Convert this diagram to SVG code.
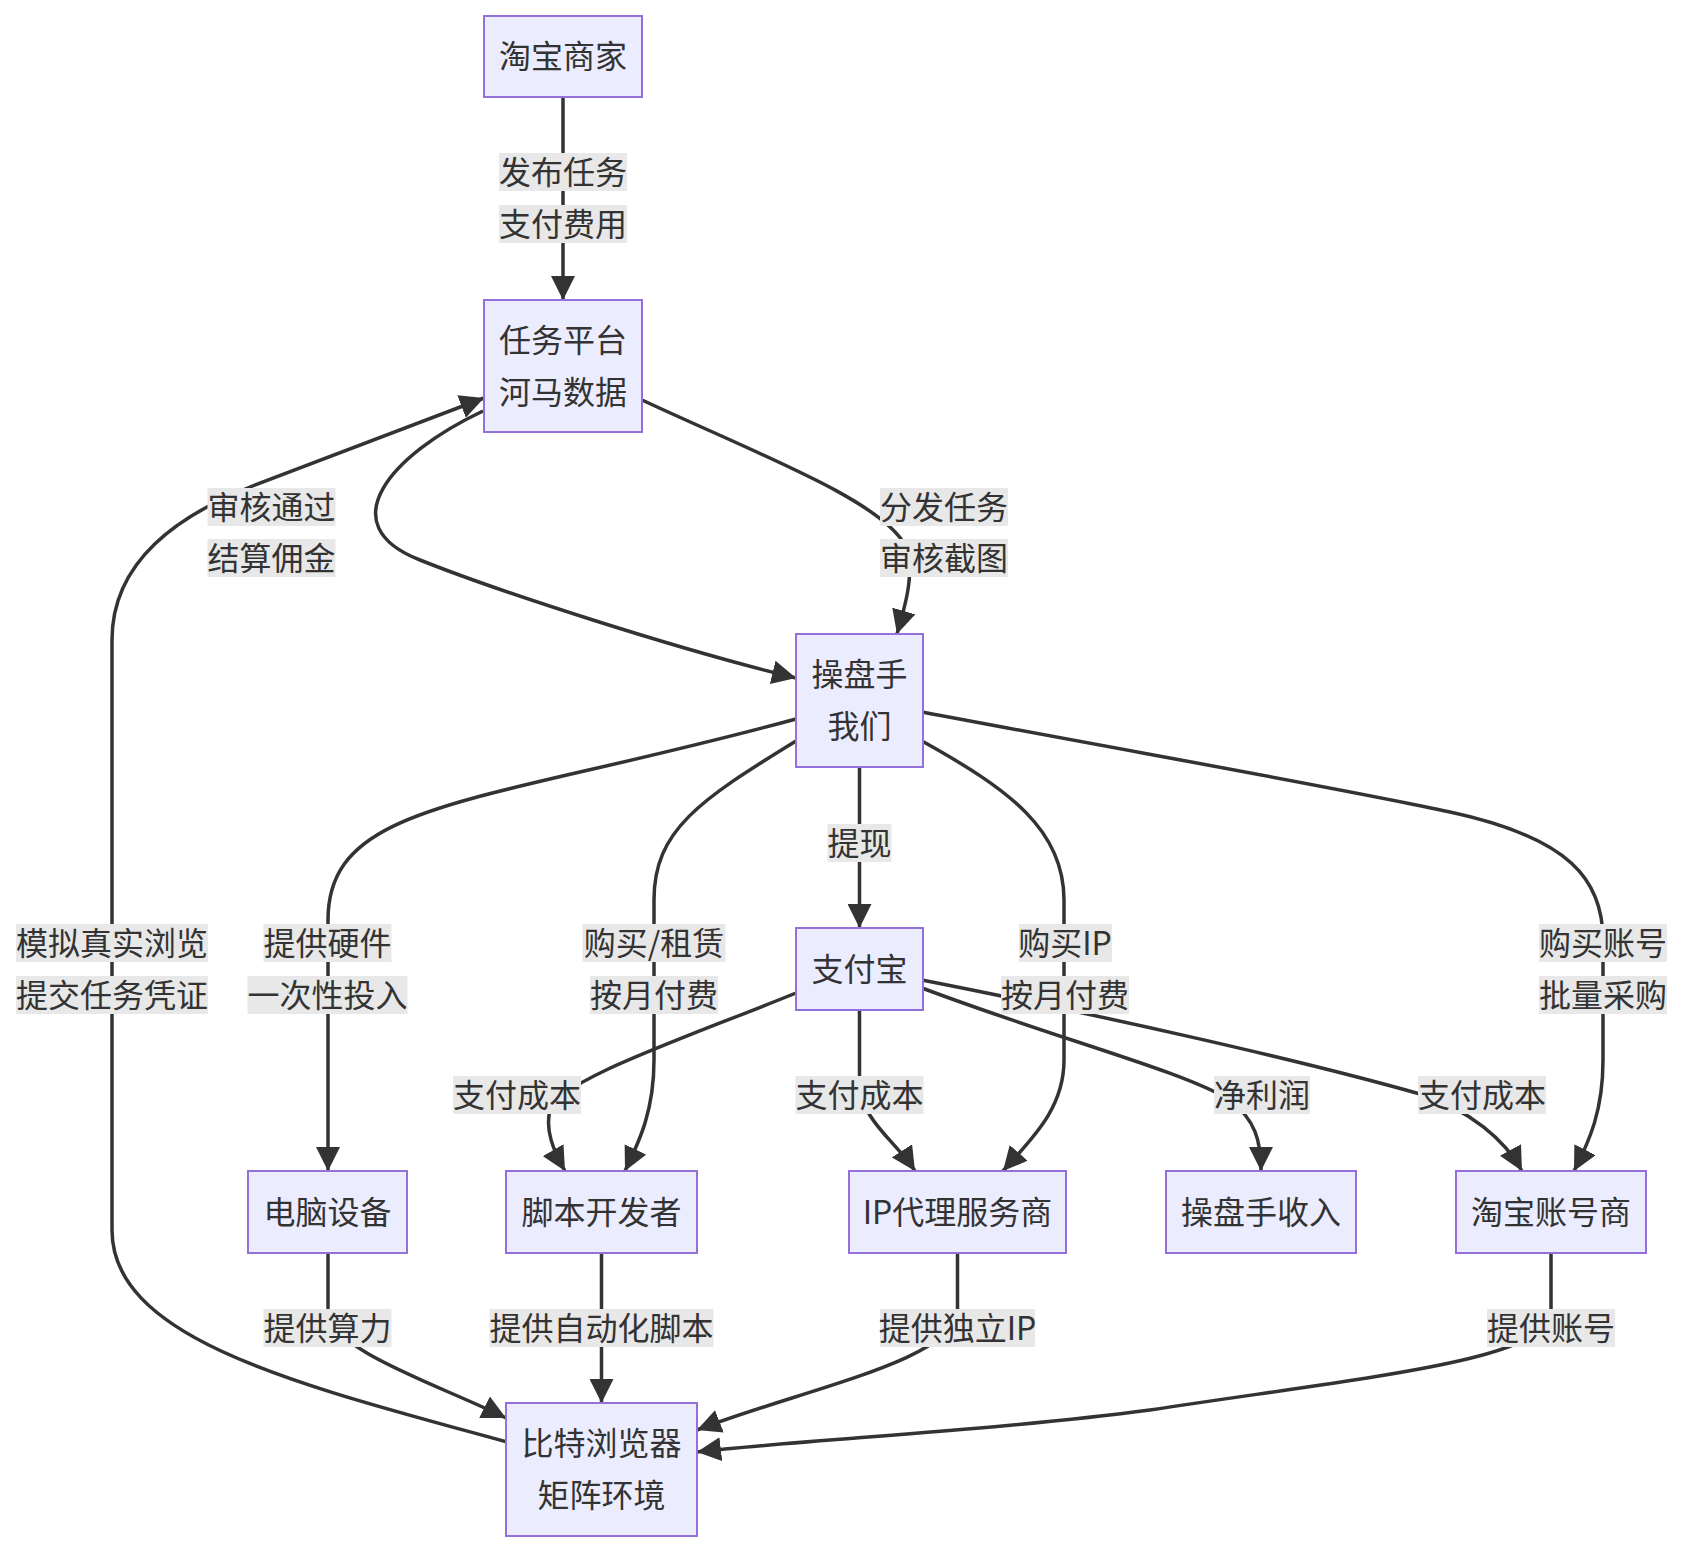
<svg xmlns="http://www.w3.org/2000/svg" width="1684" height="1554" viewBox="0 0 1684 1554">
<style>
.node rect{fill:#ECECFF;stroke:#9370DB;stroke-width:2}
text{font-family:"Noto Sans CJK SC","Liberation Sans",sans-serif;font-size:32px;fill:#333;text-anchor:middle}
.edge{fill:none;stroke:#333;stroke-width:3.5}
.lbl rect{fill:#e8e8e8}
</style>
<defs>
<marker id="arr" viewBox="0 0 10 10" refX="10" refY="5" markerWidth="24" markerHeight="24" markerUnits="userSpaceOnUse" orient="auto">
<path d="M0,0 L10,5 L0,10 z" fill="#333"/>
</marker>
</defs>
<rect width="1684" height="1554" fill="#fff"/>
<g id="connectors">
<path class="edge" marker-end="url(#arr)" d="M563,97 L563,300"/>
<path class="edge" marker-end="url(#arr)" d="M642,400 C760,455 880,500 905,545 C915,570 907,600 897,634"/>
<path class="edge" marker-end="url(#arr)" d="M507,1442 C300,1385 112,1340 112,1230 L112,640 C112,560 180,515 250,487 L484,398"/>
<path class="edge" marker-end="url(#arr)" d="M483,411 C390,455 330,525 420,560 C500,592 680,650 796,678"/>
<path class="edge" marker-end="url(#arr)" d="M796,719 C480,805 328,800 328,920 L328,1171"/>
<path class="edge" marker-end="url(#arr)" d="M796,741 C700,800 654,830 654,900 L654,1060 C654,1110 640,1140 625,1171"/>
<path class="edge" marker-end="url(#arr)" d="M859.5,767 L859.5,928"/>
<path class="edge" marker-end="url(#arr)" d="M922,741 C1010,790 1064,830 1064,900 L1064,1060 C1064,1110 1030,1140 1003,1171"/>
<path class="edge" marker-end="url(#arr)" d="M922,712 C1150,755 1350,790 1450,812 C1570,838 1603,880 1603,940 L1603,1060 C1603,1110 1590,1140 1574,1171"/>
<path class="edge" marker-end="url(#arr)" d="M796,993 C680,1040 560,1080 550,1110 C545,1130 553,1150 565,1171"/>
<path class="edge" marker-end="url(#arr)" d="M859.5,1010 L859.5,1080 C859.5,1120 895,1140 915,1171"/>
<path class="edge" marker-end="url(#arr)" d="M922,988 C1060,1040 1180,1070 1230,1100 C1255,1120 1261,1140 1261,1171"/>
<path class="edge" marker-end="url(#arr)" d="M922,980 C1100,1015 1300,1060 1420,1094 C1470,1110 1505,1140 1522,1171"/>
<path class="edge" marker-end="url(#arr)" d="M328,1253 L328,1310 C328,1350 440,1385 506,1418"/>
<path class="edge" marker-end="url(#arr)" d="M601.5,1253 L601.5,1403"/>
<path class="edge" marker-end="url(#arr)" d="M957.5,1253 L957.5,1310 C957.5,1360 800,1390 697,1430"/>
<path class="edge" marker-end="url(#arr)" d="M1551,1253 L1551,1310 C1551,1360 1380,1375 1150,1410 C1000,1430 800,1440 697,1452"/>
</g>
<g id="edge-labels">
<g class="lbl"><rect x="499" y="153" width="128" height="38"/><rect x="499" y="205" width="128" height="38"/><text x="563" y="184">发布任务</text><text x="563" y="236">支付费用</text></g>
<g class="lbl"><rect x="207.5" y="488" width="128" height="38"/><rect x="207.5" y="539" width="128" height="38"/><text x="271.5" y="519">审核通过</text><text x="271.5" y="570">结算佣金</text></g>
<g class="lbl"><rect x="880" y="488" width="128" height="38"/><rect x="880" y="539" width="128" height="38"/><text x="944" y="519">分发任务</text><text x="944" y="570">审核截图</text></g>
<g class="lbl"><rect x="16" y="924" width="192" height="38"/><rect x="16" y="976" width="192" height="38"/><text x="112" y="955">模拟真实浏览</text><text x="112" y="1007">提交任务凭证</text></g>
<g class="lbl"><rect x="263.5" y="924" width="128" height="38"/><rect x="247.5" y="976" width="160" height="38"/><text x="327.5" y="955">提供硬件</text><text x="327.5" y="1007">一次性投入</text></g>
<g class="lbl"><rect x="582.5" y="924" width="143" height="38"/><rect x="590" y="976" width="128" height="38"/><text x="654" y="955">购买/租赁</text><text x="654" y="1007">按月付费</text></g>
<g class="lbl"><rect x="827.5" y="824" width="64" height="38"/><text x="859.5" y="855">提现</text></g>
<g class="lbl"><rect x="1019" y="924" width="93" height="38"/><rect x="1001" y="976" width="128" height="38"/><text x="1065" y="955">购买IP</text><text x="1065" y="1007">按月付费</text></g>
<g class="lbl"><rect x="1539" y="924" width="128" height="38"/><rect x="1539" y="976" width="128" height="38"/><text x="1603" y="955">购买账号</text><text x="1603" y="1007">批量采购</text></g>
<g class="lbl"><rect x="453" y="1076" width="128" height="38"/><text x="517" y="1107">支付成本</text></g>
<g class="lbl"><rect x="795.5" y="1076" width="128" height="38"/><text x="859.5" y="1107">支付成本</text></g>
<g class="lbl"><rect x="1214" y="1076" width="96" height="38"/><text x="1262" y="1107">净利润</text></g>
<g class="lbl"><rect x="1418" y="1076" width="128" height="38"/><text x="1482" y="1107">支付成本</text></g>
<g class="lbl"><rect x="263.5" y="1309" width="128" height="38"/><text x="327.5" y="1340">提供算力</text></g>
<g class="lbl"><rect x="489.5" y="1309" width="224" height="38"/><text x="601.5" y="1340">提供自动化脚本</text></g>
<g class="lbl"><rect x="880" y="1309" width="155" height="38"/><text x="957.5" y="1340">提供独立IP</text></g>
<g class="lbl"><rect x="1487" y="1309" width="128" height="38"/><text x="1551" y="1340">提供账号</text></g>
</g>
<g id="n-taobao" class="node"><rect x="484" y="16" width="158" height="81"/><text x="563" y="68">淘宝商家</text></g>
<g id="n-platform" class="node"><rect x="484" y="300" width="158" height="132"/><text x="563" y="352">任务平台</text><text x="563" y="404">河马数据</text></g>
<g id="n-trader" class="node"><rect x="796" y="634" width="127" height="133"/><text x="859.5" y="686">操盘手</text><text x="859.5" y="738">我们</text></g>
<g id="n-alipay" class="node"><rect x="796" y="928" width="127" height="82"/><text x="859.5" y="981">支付宝</text></g>
<g id="n-pc" class="node"><rect x="248" y="1171" width="159" height="82"/><text x="327.5" y="1224">电脑设备</text></g>
<g id="n-script" class="node"><rect x="506" y="1171" width="191" height="82"/><text x="601.5" y="1224">脚本开发者</text></g>
<g id="n-ip" class="node"><rect x="849" y="1171" width="217" height="82"/><text x="957.5" y="1224">IP代理服务商</text></g>
<g id="n-income" class="node"><rect x="1166" y="1171" width="190" height="82"/><text x="1261" y="1224">操盘手收入</text></g>
<g id="n-account" class="node"><rect x="1456" y="1171" width="190" height="82"/><text x="1551" y="1224">淘宝账号商</text></g>
<g id="n-browser" class="node"><rect x="506" y="1403" width="191" height="133"/><text x="601.5" y="1455">比特浏览器</text><text x="601.5" y="1507">矩阵环境</text></g>
</svg>
